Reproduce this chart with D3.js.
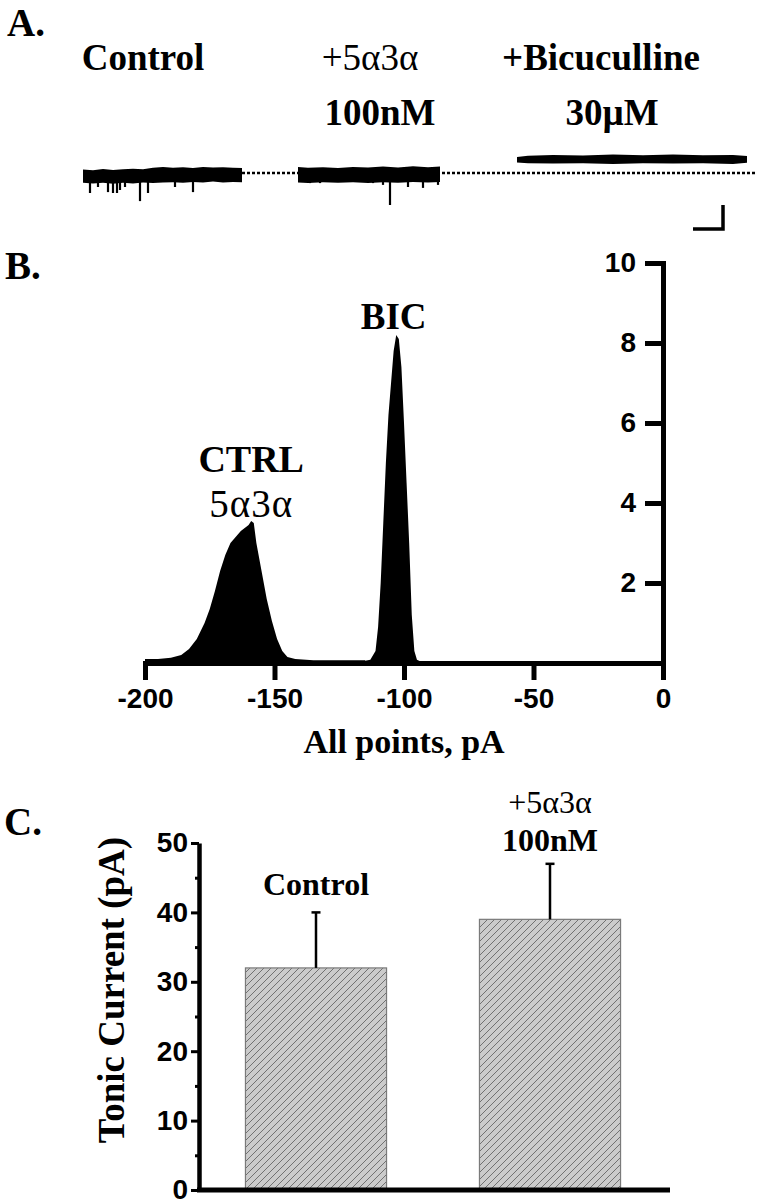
<!DOCTYPE html>
<html>
<head>
<meta charset="utf-8">
<script src="https://cdn.jsdelivr.net/npm/d3@7"></script>
<style>
  body { margin: 0; background: #fff; }
  svg { display: block; }
  text { font-family: "Liberation Serif", "Times New Roman", serif; font-weight: bold; fill: #000; }
  .num text { font-family: "Liberation Sans", Arial, sans-serif; font-weight: bold; }
  .reg { font-weight: normal; }
</style>
</head>
<body>
<svg width="758" height="1199"></svg>
<script>
// ---------- data ----------
// A: current traces (time in s, current in pA)
const traceNames = ['Control', '+5α3α', '+Bicuculline'];
const traceDoses = ['', '100nM', '30µM'];
// envelope of each trace: [time, upper, lower]
const controlEnv = [[0, -142, -186], [1, -144, -188], [2, -140, -186], [3, -143, -189], [4, -141, -186],
  [5, -139, -188], [6, -141, -185], [7, -136, -187], [8, -133, -185], [9, -136, -184], [10, -134, -186],
  [11, -137, -183], [12, -133, -185], [13, -135, -182], [14, -134, -185], [15, -136, -183], [15.9, -137, -184]];
const steroidEnv = [[21.5, -133, -185], [22.5, -136, -187], [24, -134, -184], [25.5, -137, -186],
  [27, -133, -184], [28.5, -135, -187], [30, -132, -184], [31.5, -135, -186], [33, -131, -183],
  [34.5, -134, -185], [35.7, -132, -183]];
const bicEnv = [[43.4, -100, -118], [44.5, -96, -121], [47, -93, -122], [50, -95, -121], [53, -92, -123],
  [56, -94, -121], [59, -92, -122], [62, -94, -121], [65, -93, -123], [66.4, -97, -119]];
// downward events: [time, peak]
const controlSpikes = [[0.7, -220], [1.5, -200], [2.5, -217], [3.0, -220], [3.4, -220], [3.7, -210],
  [4.2, -200], [5.7, -247], [6.5, -220], [9.2, -200], [11.0, -217]];
const steroidSpikes = [[22.7, -187], [23.7, -187], [29.0, -187], [30.0, -193], [30.7, -260],
  [32.5, -200], [34.0, -203], [35.5, -193]];
const baselineLevel = -153;
const scaleBarTime = 3;     // s
const scaleBarCurrent = 80; // pA

// B: all-points histograms (pA, count)
const ctrlHist = [[-200, 0.1], [-195, 0.1], [-190, 0.13], [-186, 0.2], [-183, 0.35], [-180, 0.6],
  [-177, 1.0], [-175, 1.35], [-173, 1.8], [-171, 2.3], [-169, 2.7], [-167, 3.0], [-165, 3.15],
  [-163, 3.3], [-161, 3.4], [-160, 3.45], [-159, 3.55], [-158, 3.5], [-157, 3.0], [-155, 2.3],
  [-153, 1.6], [-151, 1.05], [-149, 0.6], [-147, 0.3], [-145, 0.15], [-142, 0.1], [-135, 0.07],
  [-120, 0.07], [-115, 0.07]];
const bicHist = [[-118, 0.02], [-113, 0.08], [-111, 0.3], [-110, 0.9], [-109, 2.0], [-108, 3.5],
  [-107, 5.0], [-106, 6.2], [-105, 7.0], [-104, 7.8], [-103, 8.2], [-102, 8.1], [-101, 7.4],
  [-100, 6.0], [-99, 4.5], [-98, 3.0], [-97, 1.2], [-96, 0.3], [-95, 0.08], [-93, 0.02], [0, 0.01]];
const histXTicks = [-200, -150, -100, -50, 0];
const histYTicks = [2, 4, 6, 8, 10];

// C: tonic current
const groups = ['Control', '+5α3α 100nM'];
const groupLabels = [['Control'], ['+5α3α', '100nM']];
const means = [32, 39];
const sems = [8, 8];
const barYTicks = [0, 10, 20, 30, 40, 50];
const barMinorTicks = [5, 15, 25, 35, 45];

const svg = d3.select('svg');

// hatch pattern for bars
const pat = svg.append('defs').append('pattern')
  .attr('id', 'hatch')
  .attr('patternUnits', 'userSpaceOnUse')
  .attr('width', 7).attr('height', 7);
pat.append('rect').attr('width', 7).attr('height', 7).attr('fill', '#cbcbcb');
pat.append('path')
  .attr('d', 'M-1,1 l2,-2 M0,7 l7,-7 M6,8 l2,-2')
  .attr('stroke', '#666').attr('stroke-width', 0.9);

// panel letters
const letters = [['A.', 7, 36], ['B.', 5, 279], ['C.', 4, 835]];
svg.selectAll('.letter').data(letters).enter()
  .append('text')
  .attr('class', 'letter')
  .attr('x', d => d[1])
  .attr('y', d => d[2])
  .attr('font-size', 39)
  .text(d => d[0]);

// ---------- A ----------
const xA = d3.scaleLinear().domain([0, 66.4]).range([83, 747]);
const yA = d3.scaleLinear().domain([-300, 0]).range([217, 127]);

const traceG = svg.append('g');
const labelX = [143, 370, 601];
const labelX2 = [143, 380, 612];
traceNames.forEach((name, i) => {
  traceG.append('text')
    .attr('x', labelX[i]).attr('y', 70)
    .attr('text-anchor', 'middle')
    .attr('font-size', 37)
    .attr('class', name.startsWith('+5') ? 'reg' : null)
    .text(name);
  if (traceDoses[i]) {
    traceG.append('text')
      .attr('x', labelX2[i]).attr('y', 125)
      .attr('text-anchor', 'middle')
      .attr('font-size', 37)
      .text(traceDoses[i]);
  }
});

// dotted baseline
traceG.append('line')
  .attr('x1', xA(controlEnv[controlEnv.length - 1][0])).attr('x2', 757)
  .attr('y1', yA(baselineLevel)).attr('y2', yA(baselineLevel))
  .attr('stroke', '#000').attr('stroke-width', 2.5)
  .attr('stroke-dasharray', '3,2');

const band = d3.area()
  .x(d => xA(d[0]))
  .y0(d => yA(d[2]))
  .y1(d => yA(d[1]));

[controlEnv, steroidEnv, bicEnv].forEach(env => {
  traceG.append('path').attr('d', band(env)).attr('fill', '#000');
});

const mid = (env, t) => {
  const e = env.find((d, j) => j === env.length - 1 || env[j + 1][0] > t);
  return (e[1] + e[2]) / 2;
};
[[controlSpikes, controlEnv], [steroidSpikes, steroidEnv]].forEach(([sp, env]) => {
  traceG.selectAll(null).data(sp).enter()
    .append('line')
    .attr('x1', d => xA(d[0])).attr('x2', d => xA(d[0]))
    .attr('y1', d => yA(mid(env, d[0]))).attr('y2', d => yA(d[1]))
    .attr('stroke', '#000').attr('stroke-width', 2.2);
});

// scale bar
const sbT = 64.0, sbI = -340;
traceG.append('path')
  .attr('d', `M${xA(sbT - scaleBarTime)},${yA(sbI)} H${xA(sbT)} V${yA(sbI + scaleBarCurrent)}`)
  .attr('fill', 'none').attr('stroke', '#000').attr('stroke-width', 3.5);

// ---------- B ----------
const xB = d3.scaleLinear().domain([-200, 0]).range([145, 663]);
const yB = d3.scaleLinear().domain([0, 10]).range([663, 263]);
const histG = svg.append('g');

const area = d3.area()
  .x(d => xB(d[0]))
  .y0(yB(0))
  .y1(d => yB(d[1]));
[ctrlHist, bicHist].forEach(h => {
  histG.append('path').attr('d', area(h)).attr('fill', '#000');
});

const xAxisB = histG.append('g')
  .attr('class', 'num')
  .attr('transform', `translate(0,${yB(0)})`)
  .call(d3.axisBottom(xB).tickValues(histXTicks).tickFormat(d => String(d))
    .tickSize(17).tickSizeOuter(0).tickPadding(8));
const yAxisB = histG.append('g')
  .attr('class', 'num')
  .attr('transform', `translate(${xB(0)},0)`)
  .call(d3.axisLeft(yB).tickValues(histYTicks).tickSize(18).tickSizeOuter(0).tickPadding(9));
[xAxisB, yAxisB].forEach(g => {
  g.select('.domain').attr('stroke-width', 5).attr('stroke-linecap', 'square');
  g.selectAll('.tick line').attr('stroke-width', 5);
  g.selectAll('.tick text').attr('font-size', 28).attr('fill', '#000');
});

histG.append('text')
  .attr('x', (xB(-200) + xB(0)) / 2).attr('y', 753)
  .attr('text-anchor', 'middle').attr('font-size', 34)
  .text('All points, pA');
histG.append('text')
  .attr('x', xB(-159)).attr('y', 472)
  .attr('text-anchor', 'middle').attr('font-size', 38)
  .text('CTRL');
histG.append('text')
  .attr('x', xB(-159)).attr('y', 517)
  .attr('text-anchor', 'middle').attr('font-size', 39)
  .attr('letter-spacing', 1)
  .attr('class', 'reg')
  .text('5α3α');
histG.append('text')
  .attr('x', xB(-104)).attr('y', 329)
  .attr('text-anchor', 'middle').attr('font-size', 37)
  .text('BIC');

// ---------- C ----------
const xC = d3.scaleBand().domain(groups).range([199, 667]).paddingInner(0.397).paddingOuter(0.1985);
const yC = d3.scaleLinear().domain([0, 50]).range([1190, 843]);
const barG = svg.append('g');

barG.selectAll('.bar').data(groups).enter()
  .append('rect')
  .attr('class', 'bar')
  .attr('x', d => xC(d))
  .attr('width', xC.bandwidth())
  .attr('y', (d, i) => yC(means[i]))
  .attr('height', (d, i) => yC(0) - yC(means[i]))
  .attr('fill', 'url(#hatch)')
  .attr('stroke', '#7a7a7a').attr('stroke-width', 1.2);

groups.forEach((g, i) => {
  const cx = xC(g) + xC.bandwidth() / 2;
  barG.append('line')
    .attr('x1', cx).attr('x2', cx)
    .attr('y1', yC(means[i])).attr('y2', yC(means[i] + sems[i]))
    .attr('stroke', '#000').attr('stroke-width', 2.5);
  barG.append('line')
    .attr('x1', cx - 4.5).attr('x2', cx + 4.5)
    .attr('y1', yC(means[i] + sems[i])).attr('y2', yC(means[i] + sems[i]))
    .attr('stroke', '#000').attr('stroke-width', 2.5);
  const lines = groupLabels[i];
  const top = yC(means[i] + sems[i]) - (lines.length > 1 ? 13 : 17) - (lines.length - 1) * 38;
  lines.forEach((t, k) => {
    barG.append('text')
      .attr('x', cx).attr('y', top + k * 38)
      .attr('text-anchor', 'middle').attr('font-size', 32)
      .attr('class', t.startsWith('+5') ? 'reg' : null)
      .text(t);
  });
});

const yAxisC = barG.append('g')
  .attr('class', 'num')
  .attr('transform', `translate(199,0)`)
  .call(d3.axisLeft(yC).tickValues(barYTicks).tickSize(8).tickSizeOuter(0).tickPadding(3));
yAxisC.select('.domain').attr('stroke-width', 4.5);
yAxisC.selectAll('.tick line').attr('stroke-width', 3);
yAxisC.selectAll('.tick text').attr('font-size', 28).attr('fill', '#000');
barG.append('g')
  .attr('transform', `translate(199,0)`)
  .call(d3.axisLeft(yC).tickValues(barMinorTicks).tickSize(4).tickSizeOuter(0).tickFormat(''))
  .call(g => g.select('.domain').remove())
  .selectAll('line').attr('stroke-width', 3);

barG.append('line')
  .attr('x1', 197).attr('x2', 670)
  .attr('y1', yC(0)).attr('y2', yC(0))
  .attr('stroke', '#000').attr('stroke-width', 5);

barG.append('text')
  .attr('transform', `translate(124,990) rotate(-90)`)
  .attr('text-anchor', 'middle').attr('font-size', 37)
  .text('Tonic Current (pA)');
</script>
</body>
</html>
